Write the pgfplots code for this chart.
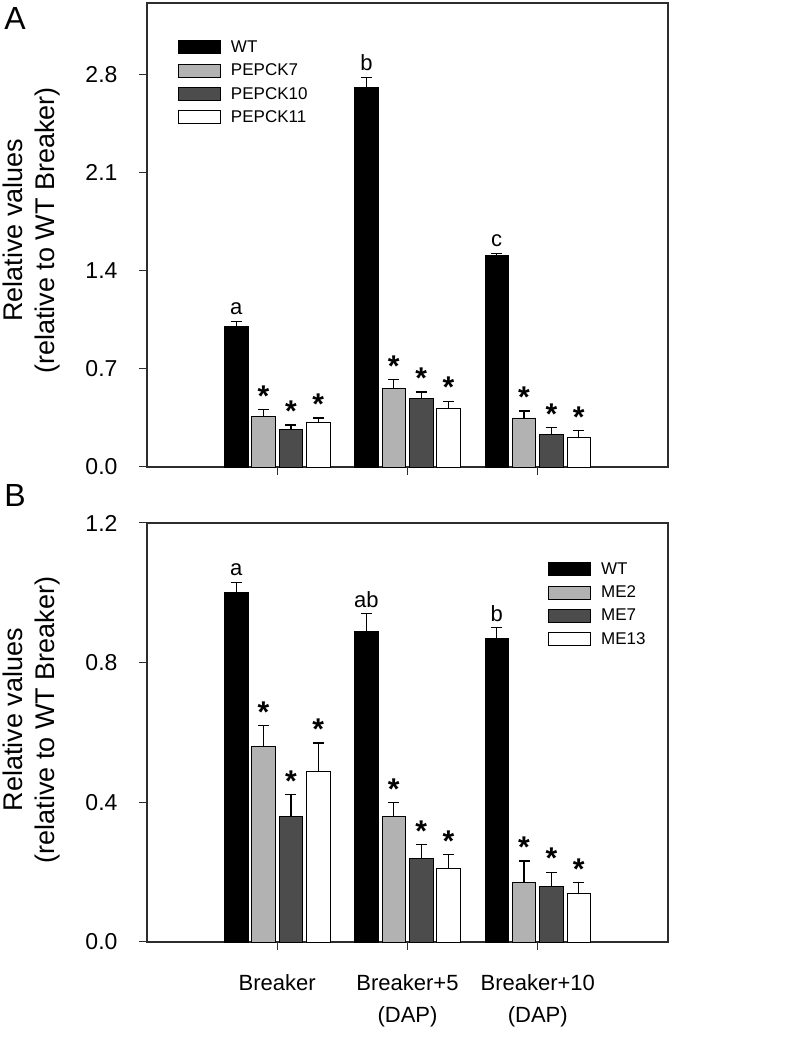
\documentclass[border=0pt]{standalone}
\usepackage{fontspec}
\setmainfont{Liberation Sans}
\usepackage{pgfplots}
\usepackage{pgfplotstable}
\pgfplotsset{compat=1.18}

\definecolor{lgray}{RGB}{178,178,178}
\definecolor{dgray}{RGB}{76,76,76}
\definecolor{axgray}{RGB}{45,45,45}

% panel A: group, mean, error
\pgfplotstableread{
x y e lab
1 1.00 0.040 a
2 2.71 0.070 b
3 1.51 0.015 c
}\aWT
\pgfplotstableread{
x y e lab
1 0.36 0.050 *
2 0.56 0.065 *
3 0.35 0.050 *
}\aSeven
\pgfplotstableread{
x y e lab
1 0.27 0.030 *
2 0.49 0.045 *
3 0.23 0.050 *
}\aTen
\pgfplotstableread{
x y e lab
1 0.32 0.030 *
2 0.42 0.050 *
3 0.21 0.050 *
}\aEleven

% panel B
\pgfplotstableread{
x y e lab
1 1.00 0.030 a
2 0.89 0.050 ab
3 0.87 0.030 b
}\bWT
\pgfplotstableread{
x y e lab
1 0.56 0.060 *
2 0.36 0.040 *
3 0.17 0.062 *
}\bTwo
\pgfplotstableread{
x y e lab
1 0.36 0.062 *
2 0.24 0.040 *
3 0.16 0.040 *
}\bSeven
\pgfplotstableread{
x y e lab
1 0.49 0.080 *
2 0.21 0.040 *
3 0.14 0.030 *
}\bThirteen

\pgfplotsset{
  panel/.style={
    scale only axis,
    width=521pt,
    xmin=0, xmax=4,
    xtick={1,2,3},
    ymin=0,
    tick align=outside,
    major tick length=8pt,
    xtick pos=bottom, ytick pos=left,
    axis line style={line width=1.2pt, color=axgray},
    tick style={line width=1pt, color=axgray},
    yticklabel style={font=\fontsize{23}{23}\selectfont, xshift=-18pt,
      /pgf/number format/.cd, fixed, fixed zerofill, precision=1, assume math mode=true},
    ylabel style={align=center, font=\fontsize{27}{32}\selectfont, anchor=center},
    legend style={draw=none, fill=none, inner sep=0pt,
      font=\fontsize{17}{17}\selectfont, row sep=6pt, column sep=8pt,
      cells={anchor=west}, anchor=north west},
    legend image code/.code={\draw[#1, draw=black, line width=0.8pt] (0pt,-6.5pt) rectangle (42pt,6.5pt);},
    clip=false,
  },
  bars/.style={ybar, bar width=0.18, bar shift=0pt, draw=black, line width=0.8pt,
    error bars/y dir=plus, error bars/y explicit,
    error bars/error bar style={line width=1.2pt, black},
    error bars/error mark options={rotate=90, mark size=5.5pt, line width=1.2pt, black}},
  marks/.style={draw=none, mark=none, forget plot, nodes near coords,
    point meta=explicit symbolic,
    nodes near coords style={anchor=south, inner sep=2pt, text=black}},
  star/.style={marks, nodes near coords style={font=\bfseries\fontsize{30}{30}\selectfont, inner sep=3pt}},
  letter/.style={marks, nodes near coords style={font=\fontsize{22}{22}\selectfont, inner sep=6pt}},
}

\begin{document}
\begin{tikzpicture}
\path[use as bounding box] (0pt,0pt) rectangle (797pt,1062pt);

\node[font=\fontsize{32}{32}\selectfont] at (15pt,1043pt) {A};
\node[font=\fontsize{32}{32}\selectfont] at (15pt,566pt) {B};

\begin{axis}[panel,
  at={(147pt,595pt)}, anchor=south west,
  height=464pt,
  ymax=3.31,
  ytick={0,0.7,1.4,2.1,2.8},
  xticklabels={,,},
  ylabel={Relative values\\(relative to WT Breaker)},
  ylabel style={at={(axis description cs:-0.221,0.51)}},
  legend style={at={(axis description cs:0.0595,0.9235)}},
]
\addplot[bars, fill=black] table[x expr=\thisrow{x}-0.315, y=y, y error=e] {\aWT};
\addplot[bars, fill=lgray] table[x expr=\thisrow{x}-0.105, y=y, y error=e] {\aSeven};
\addplot[bars, fill=dgray] table[x expr=\thisrow{x}+0.105, y=y, y error=e] {\aTen};
\addplot[bars, fill=white] table[x expr=\thisrow{x}+0.315, y=y, y error=e] {\aEleven};
\legend{WT, PEPCK7, PEPCK10, PEPCK11}
\addplot[letter] table[x expr=\thisrow{x}-0.315, y expr=\thisrow{y}+\thisrow{e}, meta=lab] {\aWT};
\addplot[star] table[x expr=\thisrow{x}-0.105, y expr=\thisrow{y}+\thisrow{e}, meta=lab] {\aSeven};
\addplot[star] table[x expr=\thisrow{x}+0.105, y expr=\thisrow{y}+\thisrow{e}, meta=lab] {\aTen};
\addplot[star] table[x expr=\thisrow{x}+0.315, y expr=\thisrow{y}+\thisrow{e}, meta=lab] {\aEleven};
\end{axis}

\begin{axis}[panel,
  at={(147pt,120pt)}, anchor=south west,
  height=419pt,
  ymax=1.2,
  ytick={0,0.4,0.8,1.2},
  xticklabels={Breaker,{Breaker+5\\(DAP)},{Breaker+10\\(DAP)}},
  xticklabel style={align=center, font=\fontsize{22}{32}\selectfont, yshift=-21pt},
  ylabel={Relative values\\(relative to WT Breaker)},
  ylabel style={at={(axis description cs:-0.221,0.53)}},
  legend style={at={(axis description cs:0.77,0.9105)}},
]
\addplot[bars, fill=black] table[x expr=\thisrow{x}-0.315, y=y, y error=e] {\bWT};
\addplot[bars, fill=lgray] table[x expr=\thisrow{x}-0.105, y=y, y error=e] {\bTwo};
\addplot[bars, fill=dgray] table[x expr=\thisrow{x}+0.105, y=y, y error=e] {\bSeven};
\addplot[bars, fill=white] table[x expr=\thisrow{x}+0.315, y=y, y error=e] {\bThirteen};
\legend{WT, ME2, ME7, ME13}
\addplot[letter] table[x expr=\thisrow{x}-0.315, y expr=\thisrow{y}+\thisrow{e}, meta=lab] {\bWT};
\addplot[star] table[x expr=\thisrow{x}-0.105, y expr=\thisrow{y}+\thisrow{e}, meta=lab] {\bTwo};
\addplot[star] table[x expr=\thisrow{x}+0.105, y expr=\thisrow{y}+\thisrow{e}, meta=lab] {\bSeven};
\addplot[star] table[x expr=\thisrow{x}+0.315, y expr=\thisrow{y}+\thisrow{e}, meta=lab] {\bThirteen};
\end{axis}
\end{tikzpicture}
\end{document}
